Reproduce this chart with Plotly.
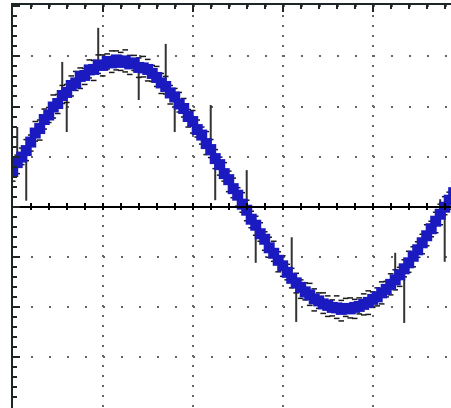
import plotly.graph_objects as go

# Datos (unidades de los ejes: rejilla cada 1)
x_vals = [0.00, 0.05, 0.10, 0.15, 0.20, 0.25, 0.30, 0.35, 0.40, 0.45,
          0.50, 0.55, 0.60, 0.65, 0.70, 0.75, 0.80, 0.85, 0.90, 0.95,
          1.00, 1.05, 1.10, 1.15, 1.20, 1.25, 1.30, 1.35, 1.40, 1.45,
          1.50, 1.55, 1.60, 1.65, 1.70, 1.75, 1.80, 1.85, 1.90, 1.95,
          2.00, 2.05, 2.10, 2.15, 2.20, 2.25, 2.30, 2.35, 2.40, 2.45,
          2.50, 2.55, 2.60, 2.65, 2.70, 2.75, 2.80, 2.85, 2.90, 2.95,
          3.00, 3.05, 3.10, 3.15, 3.20, 3.25, 3.30, 3.35, 3.40, 3.45,
          3.50, 3.55, 3.60, 3.65, 3.70, 3.75, 3.80, 3.85, 3.90, 3.95,
          4.00, 4.05, 4.10, 4.15, 4.20, 4.25, 4.30, 4.35, 4.40, 4.45,
          4.50, 4.55, 4.60, 4.65, 4.70, 4.75, 4.80, 4.85, 4.90]

y_vals = [0.70, 0.88, 0.99, 1.12, 1.29, 1.47, 1.56, 1.74, 1.83, 1.99,
          2.06, 2.22, 2.28, 2.42, 2.47, 2.60, 2.62, 2.73, 2.74, 2.83,
          2.82, 2.90, 2.87, 2.93, 2.88, 2.91, 2.85, 2.87, 2.78, 2.77,
          2.74, 2.66, 2.58, 2.47, 2.40, 2.27, 2.19, 2.05, 1.96, 1.80,
          1.70, 1.54, 1.43, 1.26, 1.14, 0.96, 0.84, 0.66, 0.54, 0.36,
          0.23, 0.05, -0.07, -0.25, -0.37, -0.54, -0.65, -0.82, -0.93, -1.07,
          -1.18, -1.31, -1.43, -1.52, -1.61, -1.70, -1.76, -1.84, -1.88, -1.94,
          -1.97, -2.01, -2.02, -2.05, -2.03, -2.04, -2.01, -1.99, -1.95, -1.91,
          -1.85, -1.80, -1.72, -1.65, -1.55, -1.46, -1.36, -1.24, -1.12, -0.99,
          -0.86, -0.72, -0.58, -0.44, -0.29, -0.15, -0.01, 0.13, 0.28]

# Distancia de la envolvente superior / inferior a la curva
env_up = [0.20, 0.15, 0.18, 0.22, 0.14, 0.23, 0.17, 0.21, 0.15, 0.24,
          0.18, 0.20, 0.16, 0.19, 0.23, 0.17, 0.14, 0.20, 0.18, 0.20,
          0.21, 0.15, 0.24, 0.18, 0.20, 0.22, 0.17, 0.15, 0.19, 0.23,
          0.20, 0.16, 0.22, 0.19, 0.20, 0.15, 0.17, 0.23, 0.20, 0.14,
          0.22, 0.19, 0.16, 0.24, 0.20, 0.18, 0.15, 0.22, 0.17, 0.21,
          0.15, 0.23, 0.20, 0.16, 0.18, 0.22, 0.15, 0.21, 0.24, 0.17,
          0.20, 0.16, 0.20, 0.19, 0.15, 0.18, 0.23, 0.20, 0.16, 0.22,
          0.19, 0.15, 0.24, 0.18, 0.20, 0.22, 0.16, 0.17, 0.21, 0.23,
          0.15, 0.18, 0.22, 0.16, 0.21, 0.20, 0.15, 0.18, 0.23, 0.19,
          0.16, 0.17, 0.22, 0.15, 0.18, 0.20, 0.21, 0.16, 0.22]

env_down = [0.19, 0.22, 0.15, 0.20, 0.18, 0.16, 0.23, 0.19, 0.15, 0.22,
            0.20, 0.16, 0.20, 0.21, 0.15, 0.24, 0.18, 0.16, 0.22, 0.17,
            0.21, 0.15, 0.19, 0.20, 0.16, 0.22, 0.21, 0.15, 0.20, 0.18,
            0.23, 0.16, 0.18, 0.21, 0.15, 0.22, 0.20, 0.16, 0.17, 0.21,
            0.23, 0.15, 0.18, 0.22, 0.16, 0.20, 0.21, 0.15, 0.24, 0.18,
            0.22, 0.16, 0.21, 0.17, 0.20, 0.15, 0.22, 0.19, 0.16, 0.23,
            0.21, 0.15, 0.19, 0.20, 0.22, 0.16, 0.21, 0.24, 0.15, 0.19,
            0.22, 0.17, 0.21, 0.23, 0.16, 0.18, 0.22, 0.15, 0.21, 0.24,
            0.16, 0.18, 0.22, 0.15, 0.21, 0.20, 0.23, 0.16, 0.19, 0.21,
            0.15, 0.22, 0.20, 0.16, 0.23, 0.21, 0.15, 0.18, 0.20]

# Picos largos (valores atipicos) medidos desde la curva
spike_x = [0.05, 0.15, 0.55, 0.60, 0.95, 1.40, 1.70, 1.80, 2.20,
           2.25, 2.60, 2.70, 3.10, 3.15, 4.25, 4.35, 4.75, 4.80]
spike_y = [0.88, 1.12, 2.22, 2.28, 2.83, 2.78, 2.40, 2.19, 1.14,
           0.96, -0.07, -0.37, -1.43, -1.52, -1.46, -1.24, -0.15, -0.01]
spike_up = [0.71, 0, 0.67, 0, 0.74, 0, 0.85, 0, 0.89,
            0, 0.80, 0, 0.82, 0, 0.54, 0, 0.30, 0]
spike_down = [0, 1.00, 0, 0.79, 0, 0.65, 0, 0.70, 0,
              0.83, 0, 0.75, 0, 0.78, 0, 1.08, 0, 1.09]

# Estilos
AZUL = "#1a1ac0"
EJE = "#1c2626"
REJILLA = "#666666"
X_RANGE = [0.003, 4.87]
Y_RANGE = [-4.018, 4.026]
POS_CERO = (0 - Y_RANGE[0]) / (Y_RANGE[1] - Y_RANGE[0])


def eje_cero(ticks):
    """Eje auxiliar sobre y=0 con marcas menores en un lado"""
    return dict(
        overlaying="x", anchor="free", position=POS_CERO, range=X_RANGE,
        showline=True, linecolor="black", linewidth=1.5,
        ticks=ticks, ticklen=3, tickwidth=1.5, tickcolor="black",
        tick0=0, dtick=0.2, showticklabels=False,
        showgrid=False, zeroline=False,
    )


fig = go.Figure()

# Picos: barras de error sin remate, la parte interior queda bajo la curva
fig.add_trace(go.Scatter(
    x=spike_x, y=spike_y, mode="markers",
    marker=dict(size=1, opacity=0),
    error_y=dict(type="data", symmetric=False, array=spike_up,
                 arrayminus=spike_down, color="#333333", thickness=2, width=0),
    showlegend=False, hoverinfo="skip",
))

# Envolventes como guiones cortos
env_sup = [y + e for y, e in zip(y_vals, env_up)]
env_inf = [y - e for y, e in zip(y_vals, env_down)]
for env in (env_sup, env_inf):
    fig.add_trace(go.Scatter(
        x=x_vals, y=env, mode="markers",
        marker=dict(symbol="line-ew", size=4,
                    line=dict(width=1.5, color="#1a1a1a")),
        showlegend=False, hoverinfo="skip",
    ))

# Curva principal
fig.add_trace(go.Scatter(
    x=x_vals, y=y_vals, mode="markers",
    marker=dict(symbol="square", size=11, color=AZUL, line=dict(width=0)),
    showlegend=False,
))

# Trazas vacias para que se dibujen los ejes sobre el cero
fig.add_trace(go.Scatter(x=[None], y=[None], xaxis="x2", showlegend=False))
fig.add_trace(go.Scatter(x=[None], y=[None], xaxis="x3", showlegend=False))

fig.update_layout(
    width=451, height=408,
    margin=dict(l=13, r=0, t=5, b=0, pad=0),
    paper_bgcolor="white", plot_bgcolor="white",
    xaxis=dict(
        range=X_RANGE, side="top", showline=True, linecolor=EJE, linewidth=2,
        ticks="inside", ticklen=7, tickwidth=2, tickcolor=EJE,
        tick0=0, dtick=1, showticklabels=False,
        showgrid=True, gridcolor=REJILLA, gridwidth=2, griddash="2px,8px",
        zeroline=False,
        minor=dict(tick0=0, dtick=0.2, ticks="inside", ticklen=4,
                   tickwidth=2, tickcolor=EJE, showgrid=False),
    ),
    yaxis=dict(
        range=Y_RANGE, showline=True, linecolor=EJE, linewidth=2,
        ticks="inside", ticklen=7, tickwidth=2, tickcolor=EJE,
        tick0=0, dtick=1, showticklabels=False,
        showgrid=True, gridcolor=REJILLA, gridwidth=2, griddash="2px,16px",
        zeroline=True, zerolinecolor="black", zerolinewidth=1.5,
        minor=dict(tick0=0, dtick=0.2, ticks="inside", ticklen=4,
                   tickwidth=2, tickcolor=EJE, showgrid=False),
    ),
    xaxis2=eje_cero("outside"),
    xaxis3=eje_cero("inside"),
)

# Sin margen del body para que el grafico empiece en la esquina
fig.write_html("out.html", config={"displayModeBar": False},
               post_script="document.body.style.margin='0';")
